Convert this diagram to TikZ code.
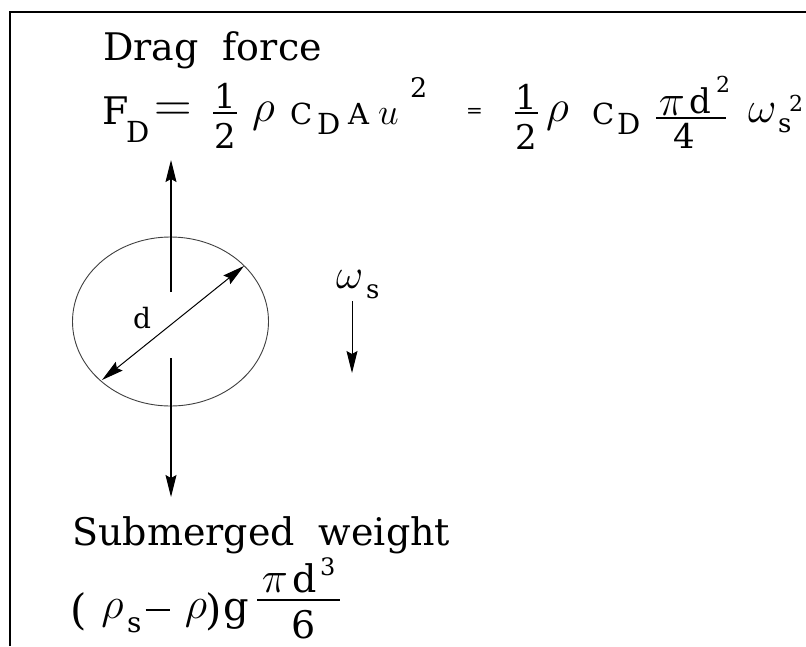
\RequirePackage{fix-cm}
\documentclass[tikz,border=0pt]{standalone}
\usepackage{fontspec}
\setmainfont{DejaVu Serif}
\usetikzlibrary{arrows.meta,shapes.geometric}
\newcommand{\sz}[1]{\fontsize{#1}{#1}\selectfont}

\begin{document}
\begin{tikzpicture}[x=1pt,y=-1pt,>={Stealth[length=22pt,width=11pt,inset=3pt]},
  txt/.style={inner sep=0pt,anchor=base west},
  fr/.style={inner sep=0pt,anchor=base},
  sym/.style={inner sep=0pt},
  bar/.style={line width=1.3pt}]
\useasboundingbox (0,0) rectangle (806,646);
\fill[white] (0,0) rectangle (806,646);
\draw[line width=2pt] (10,646) |- (806,12);
% drag force
\node[txt,font=\sz{38}] (dragtxt) at (103,60) {Drag\ \ force};
\node[txt,font=\sz{38}] (fF) at (102,124) {F};
\node[txt,font=\sz{29}] (fFsub) at (126,142) {D};
\node[sym,font=\sz{52}] (eqA) at (173,112.5) {$=$};
\node[fr,font=\sz{34}] (numA) at (225,108) {1};
\node[fr,font=\sz{34}] (denA) at (225,148) {2};
\draw[bar] (213,113) -- (237,113);
\node[sym,font=\sz{45}] (rhoA) at (263.5,116) {$\rho$};
\node[txt,font=\sz{29}] (cA) at (290,124) {C};
\node[txt,font=\sz{29}] (cAsub) at (317,134) {D};
\node[txt,font=\sz{29}] (area) at (348,124) {A};
\node[txt,font=\sz{37}] (vel) at (378,124) {$u$};
\node[txt,font=\sz{27}] (velsq) at (410,97) {2};
\node[sym,font=\sz{20}] (eqB) at (474.5,113) {=};
\node[fr,font=\sz{34}] (numB) at (526.5,109) {1};
\node[fr,font=\sz{34}] (denB) at (526.5,149) {2};
\draw[bar] (515,113) -- (538,113);
\node[sym,font=\sz{45}] (rhoB) at (557.5,116) {$\rho$};
\node[txt,font=\sz{29}] (cB) at (592,124) {C};
\node[txt,font=\sz{29}] (cBsub) at (617,134) {D};
\node[sym,font=\sz{44}] (piB) at (672,106) {$\pi$};
\node[txt,font=\sz{34}] (dB) at (689,113) {d};
\node[txt,font=\sz{22}] (dBsq) at (716,92) {2};
\node[fr,font=\sz{34}] (fourB) at (684.5,148) {4};
\draw[bar] (656,118) -- (726,118);
\node[txt,font=\sz{44}] (omB) at (748,122) {$\omega$};
\node[txt,font=\sz{26}] (omBsub) at (778,132) {s};
\node[txt,font=\sz{22}] (omBsq) at (789,111) {2};
% grain
\node[draw=black!75,ellipse,minimum width=196pt,minimum height=169pt,inner sep=0pt,line width=0.9pt] (grain) at (170.5,321.5) {};
\coordinate (upfoot) at (171,292);
\coordinate (uptip) at (171,160);
\coordinate (dnfoot) at (171,358);
\coordinate (dntip) at (171,497);
\draw[->,line width=1.1pt] (upfoot) -- (uptip);
\draw[->,line width=1.1pt] (dnfoot) -- (dntip);
\coordinate (dlo) at (102,380);
\coordinate (dhi) at (244,266);
\draw[<->,line width=1pt] (dlo) -- (dhi);
\node[txt,font=\sz{28}] (dlab) at (133,328) {d};
\node[txt,font=\sz{42}] (omlab) at (336,288) {$\omega$};
\node[txt,font=\sz{26}] (omlabsub) at (366,298) {s};
\coordinate (omfoot) at (352,301);
\coordinate (omtip) at (352,373);
\draw[->,line width=1pt] (omfoot) -- (omtip);
% submerged weight
\node[txt,font=\sz{38}] (subtxt) at (72,545) {Submerged\ \ weight};
\node[sym,font=\sz{42}] (parL) at (79,612) {(};
\node[sym,font=\sz{44}] (rhoS) at (112.5,613) {$\rho$};
\node[txt,font=\sz{28}] (rhoSsub) at (127,632) {s};
\node[sym] (minus) at (157.5,610) {\rule{24pt}{1.5pt}};
\node[sym,font=\sz{44}] (rhoW) at (196,613) {$\rho$};
\node[sym,font=\sz{42}] (parR) at (214,612) {)};
\node[txt,font=\sz{40}] (grav) at (223,620) {g};
\node[sym,font=\sz{44}] (piW) at (275,583) {$\pi$};
\node[txt,font=\sz{38}] (dW) at (292,592) {d};
\node[txt,font=\sz{24}] (dWcube) at (320,575) {3};
\node[fr,font=\sz{38}] (sixW) at (303.5,638) {6};
\draw[bar] (257,600) -- (340,600);
\end{tikzpicture}
\end{document}
